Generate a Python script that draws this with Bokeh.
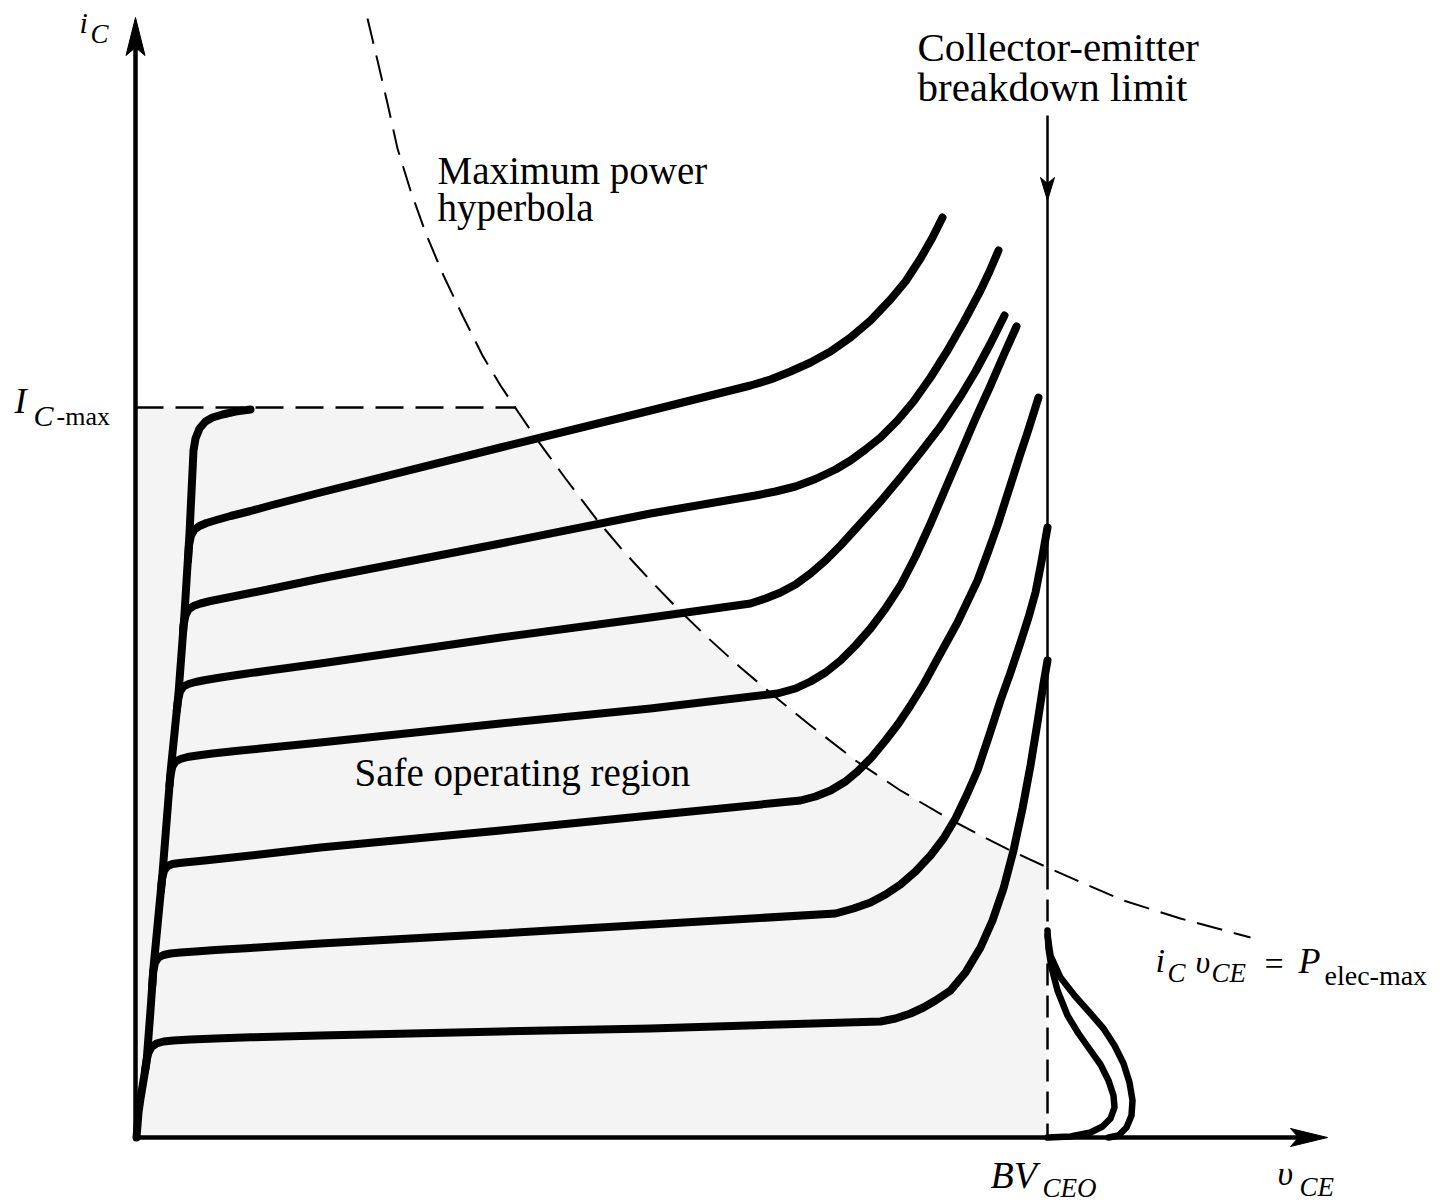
from bokeh.plotting import figure
from bokeh.models import Range1d, Label
from bokeh.embed import file_html
from bokeh.resources import INLINE

# ---------------- data (v_CE, i_C in arbitrary chart units) ----------------
IC_MAX = 73.0          # I_C-max level
BV_CEO = 91.2          # collector-emitter breakdown voltage
V_AXIS_END = 119.2     # end of the v_CE axis arrow
I_AXIS_END = 112.0     # end of the i_C axis arrow
BV_ARROW_TOP = 102.2   # top of the breakdown pointer line
BV_ARROW_TIP = 93.7    # tip of the breakdown pointer arrow
IC_MAX_END = 38.0      # where the I_C-max limit meets the hyperbola

# saturation edge (common steep rise) ending at I_C-max
sat_v = [0.1, 0.2, 0.3, 0.5, 0.8, 1.1, 1.5, 1.8, 2.7, 3.5, 4.3, 4.9, 5.4, 5.8, 6.0, 6.4, 7.0, 7.7, 8.7, 10.0, 11.5]
sat_i = [0.0, 1.2, 2.5, 3.9, 5.7, 7.5, 12.7, 17.0, 26.4, 36.5, 44.4, 52.4, 60.4, 68.7, 69.9, 70.9, 71.6, 72.0, 72.3, 72.6, 72.8]

# characteristic curves, top to bottom
c1_v = [5.25, 5.35, 5.55, 5.9, 6.4, 7.1, 8.1, 9.5, 11.5, 13.5, 18.5, 36.5, 51.5, 61.5, 63.5, 65.5,
        67.5, 69.5, 71.5, 73.5, 75.5, 77.0, 78.5, 79.7, 80.7]
c1_i = [57.7, 59.2, 60.2, 60.8, 61.15, 61.45, 61.75, 62.15, 62.65, 63.2, 64.5, 69.0, 72.7, 75.2, 75.8, 76.6,
        77.5, 78.6, 80.0, 81.7, 83.8, 85.6, 87.9, 90.0, 92.0]

c2_v = [4.75, 4.8, 5.0, 5.3, 5.8, 6.5, 7.5, 9.0, 11.0, 13.5, 18.5, 36.5, 51.5, 62.0, 64.0, 66.0,
        68.0, 70.0, 71.5, 73.0, 74.5, 76.2, 77.8, 79.5, 81.2, 82.8, 84.5, 85.4, 86.3]
c2_i = [50.5, 51.2, 52.2, 52.8, 53.15, 53.4, 53.65, 53.95, 54.35, 54.85, 55.9, 59.4, 62.4, 64.2, 64.6, 65.1,
        65.85, 66.8, 67.7, 68.8, 70.0, 71.7, 73.6, 76.0, 78.7, 81.5, 84.7, 86.6, 88.7]

c3_v = [4.13, 4.25, 4.45, 4.8, 5.3, 6.0, 7.0, 8.5, 10.5, 13.0, 18.5, 36.5, 51.5, 61.5, 63.0, 64.5,
        66.0, 67.5, 69.0, 70.5, 72.5, 74.5, 76.5, 78.5, 80.5, 82.5, 84.0, 85.5, 86.9]
c3_i = [42.7, 43.7, 44.6, 45.1, 45.35, 45.55, 45.75, 46.0, 46.3, 46.65, 47.4, 50.0, 52.0, 53.4, 53.9, 54.5,
        55.3, 56.4, 57.7, 59.2, 61.4, 63.6, 66.0, 68.5, 71.1, 74.1, 76.6, 79.4, 82.2]

c4_v = [3.4, 3.5, 3.68, 4.0, 4.5, 5.2, 6.2, 7.7, 10.0, 12.5, 18.5, 36.5, 51.5, 64.2, 66.0, 67.5,
        69.0, 70.5, 72.0, 73.5, 75.0, 76.5, 78.0, 79.5, 81.0, 82.5, 84.0, 85.5, 86.8, 88.1]
c4_i = [35.2, 36.2, 37.1, 37.6, 37.85, 38.05, 38.2, 38.4, 38.65, 38.9, 39.5, 41.4, 42.9, 44.4, 44.9, 45.6,
        46.5, 47.7, 49.2, 50.9, 52.9, 55.2, 58.1, 61.4, 64.9, 68.4, 71.9, 75.2, 78.2, 81.1]

c5_v = [2.54, 2.66, 2.86, 3.2, 3.7, 4.4, 5.4, 6.9, 9.0, 12.0, 18.5, 36.5, 51.5, 66.5, 68.0, 69.5,
        71.0, 72.2, 73.6, 75.0, 76.3, 77.5, 78.8, 80.0, 81.1, 82.2, 83.2, 84.2, 85.2, 86.2, 87.0,
        87.8, 88.5, 89.2, 89.8, 90.3]
c5_i = [24.7, 25.9, 26.7, 27.15, 27.35, 27.45, 27.55, 27.7, 27.93, 28.24, 29.0, 30.7, 32.2, 33.7, 34.1, 34.7,
        35.6, 36.6, 38.0, 39.7, 41.4, 43.2, 45.3, 47.5, 49.5, 51.5, 53.6, 55.7, 58.4, 61.2, 63.7,
        66.2, 68.4, 70.5, 72.4, 74.0]

c6_v = [1.67, 1.77, 1.96, 2.3, 2.8, 3.5, 4.5, 6.0, 8.0, 11.5, 18.5, 36.5, 51.5, 70.0, 71.8, 73.5,
        75.0, 76.5, 78.0, 79.5, 80.8, 82.0, 83.1, 84.2, 85.3, 86.5, 87.5, 88.5, 89.3, 90.0, 90.6, 91.2]
c6_i = [15.2, 16.6, 17.5, 18.0, 18.25, 18.4, 18.5, 18.6, 18.75, 18.96, 19.4, 20.4, 21.3, 22.4, 22.9, 23.5,
        24.3, 25.3, 26.6, 28.2, 29.9, 31.9, 34.2, 36.7, 40.0, 43.7, 46.5, 49.5, 52.0, 54.5, 57.6, 61.0]

c7_v = [0.95, 1.1, 1.3, 1.6, 2.1, 2.8, 3.8, 5.5, 8.0, 11.5, 18.5, 36.5, 51.5, 74.5, 76.0, 77.5,
        78.8, 80.0, 81.5, 83.0, 84.5, 85.7, 86.8, 87.8, 88.7, 89.5, 90.2, 90.8, 91.2]
c7_i = [6.7, 7.7, 8.5, 9.05, 9.4, 9.6, 9.7, 9.8, 9.9, 10.02, 10.2, 10.6, 10.9, 11.6, 11.9, 12.4,
        13.0, 13.7, 14.7, 16.5, 19.0, 21.7, 24.9, 28.7, 32.9, 37.2, 41.5, 45.4, 47.7]

# breakdown (snap-back) loops beyond BV_CEO
b1_v = [91.2, 91.3, 91.6, 92.2, 93.2, 94.3, 95.5, 96.5, 97.3, 97.8, 97.9, 97.5, 96.7, 95.5, 93.5, 91.2]
b1_i = [20.7, 18.9, 17.0, 14.7, 12.2, 10.4, 8.7, 7.3, 5.7, 4.2, 3.0, 1.9, 1.1, 0.5, 0.1, 0.0]
b2_v = [91.2, 91.5, 92.5, 93.9, 95.5, 96.8, 97.9, 98.8, 99.4, 99.7, 99.6, 99.1, 98.3, 97.3]
b2_i = [20.2, 18.2, 16.0, 14.2, 12.4, 10.9, 9.2, 7.4, 5.5, 3.7, 2.2, 1.0, 0.2, 0.0]

# maximum power hyperbola i_C * v_CE = P_elec-max
hyp_v = [23.2, 24.2, 25.2, 26.2, 27.5, 29.0, 30.8, 32.7, 34.7, 36.5, 38.3, 40.0, 43.0, 46.2, 49.0,
         51.5, 54.2, 57.2, 60.5, 63.8, 67.5, 72.0, 76.5, 81.3, 84.5, 87.7, 91.2, 95.3, 98.8, 104.5, 111.5]
hyp_i = [111.9, 107.7, 103.4, 98.9, 94.7, 90.5, 86.2, 82.2, 78.2, 75.2, 72.5, 70.0, 65.9, 61.7, 58.4,
         55.7, 52.9, 50.0, 47.0, 44.2, 41.2, 37.7, 34.7, 31.9, 30.2, 28.6, 27.0, 25.2, 23.7, 21.9, 20.0]

curves = [(c1_v, c1_i), (c2_v, c2_i), (c3_v, c3_i), (c4_v, c4_i),
          (c5_v, c5_i), (c6_v, c6_i), (c7_v, c7_i)]

# ---------------- figure ----------------
p = figure(width=1450, height=1203,
           x_range=Range1d(-13.5, 131.5), y_range=Range1d(-6.6, 113.7),
           output_backend="svg", toolbar_location=None, min_border=0,
           x_axis_location=None, y_axis_location=None)
p.grid.visible = False
p.outline_line_color = None
p.background_fill_color = "white"
p.border_fill_color = "white"

# safe operating region (light stipple)
hyp_idx = [k for k, v in enumerate(hyp_v) if IC_MAX_END < v <= BV_CEO]
reg_v = [0, 0, IC_MAX_END] + [hyp_v[k] for k in hyp_idx] + [BV_CEO]
reg_i = [0, IC_MAX, IC_MAX] + [hyp_i[k] for k in hyp_idx] + [0]
p.patch(reg_v, reg_i, fill_color="#f4f4f4", fill_alpha=1.0, line_color=None)

# I_C-max dashed limit
p.line([0, IC_MAX_END], [IC_MAX, IC_MAX], line_color="black", line_width=2.5, line_dash="28 12")

# hyperbola
p.line(hyp_v, hyp_i, line_color="black", line_width=2, line_dash="26 12")

# breakdown limit line: solid above hyperbola, dashed below
bv_hyp_i = hyp_i[hyp_v.index(BV_CEO)]
p.line([BV_CEO, BV_CEO], [BV_ARROW_TOP, bv_hyp_i], line_color="black", line_width=2.5)
p.line([BV_CEO, BV_CEO], [bv_hyp_i, 0], line_color="black", line_width=2.5, line_dash="22 10")
p.patch([BV_CEO, BV_CEO - 0.7, BV_CEO, BV_CEO + 0.7],
        [BV_ARROW_TIP, BV_ARROW_TIP + 2.3, BV_ARROW_TIP + 1.7, BV_ARROW_TIP + 2.3],
        fill_color="black", line_color="black", line_width=1)

# characteristic curves
p.line(sat_v, sat_i, line_color="black", line_width=8, line_cap="round", line_join="round")
for cv, ci in curves:
    p.line(cv, ci, line_color="black", line_width=8, line_cap="round", line_join="round")
p.line(b1_v, b1_i, line_color="black", line_width=6.5, line_cap="round", line_join="round")
p.line(b2_v, b2_i, line_color="black", line_width=6.5, line_cap="round", line_join="round")

# axes with arrow heads
p.line([0, 0], [0, I_AXIS_END - 2.5], line_color="black", line_width=4.5)
p.line([0, V_AXIS_END - 2.5], [0, 0], line_color="black", line_width=4.5)
p.patch([0, -0.95, 0, 0.95],
        [I_AXIS_END, I_AXIS_END - 3.8, I_AXIS_END - 3.0, I_AXIS_END - 3.8],
        fill_color="black", line_color="black", line_width=1)
p.patch([V_AXIS_END, V_AXIS_END - 3.7, V_AXIS_END - 2.9, V_AXIS_END - 3.7],
        [0, 0.9, 0, -0.9],
        fill_color="black", line_color="black", line_width=1)

# ---------------- texts ----------------
SERIF = "Liberation Serif"


def lab(x, y, text, size, style="normal"):
    # y is the intended baseline; nudge for the renderer's baseline placement
    p.add_layout(Label(x=x, y=y + 0.034 * size, text=text, text_font=SERIF,
                       text_font_size=f"{size}px", text_font_style=style, text_color="black",
                       text_align="left", text_baseline="alphabetic"))


lab(-5.6, 110.5, "i", 30, "italic")
lab(-4.5, 109.4, "C", 27, "italic")

lab(-12.1, 72.4, "I", 36, "italic")
lab(-10.2, 71.2, "C", 30, "italic")
lab(-7.9, 71.2, "-max", 26)

lab(78.2, 107.7, "Collector-emitter", 41)
lab(78.2, 103.7, "breakdown limit", 41)

lab(30.2, 95.4, "Maximum power", 39)
lab(30.2, 91.7, "hyperbola", 39)

lab(21.9, 35.2, "Safe operating region", 39)

lab(85.5, -5.0, "BV", 38, "italic")
lab(90.7, -6.0, "CEO", 27, "italic")

lab(114.2, -4.8, "υ", 34, "italic")
lab(116.4, -5.9, "CE", 27, "italic")

lab(102.0, 16.5, "i", 34, "italic")
lab(103.2, 15.5, "C", 27, "italic")
lab(106.0, 16.5, "υ", 32, "italic")
lab(107.6, 15.5, "CE", 27, "italic")
lab(112.9, 16.2, "=", 34)
lab(116.3, 16.4, "P", 36, "italic")
lab(118.9, 15.2, "elec-max", 28)

open("out.html", "w").write(file_html(p, INLINE))
